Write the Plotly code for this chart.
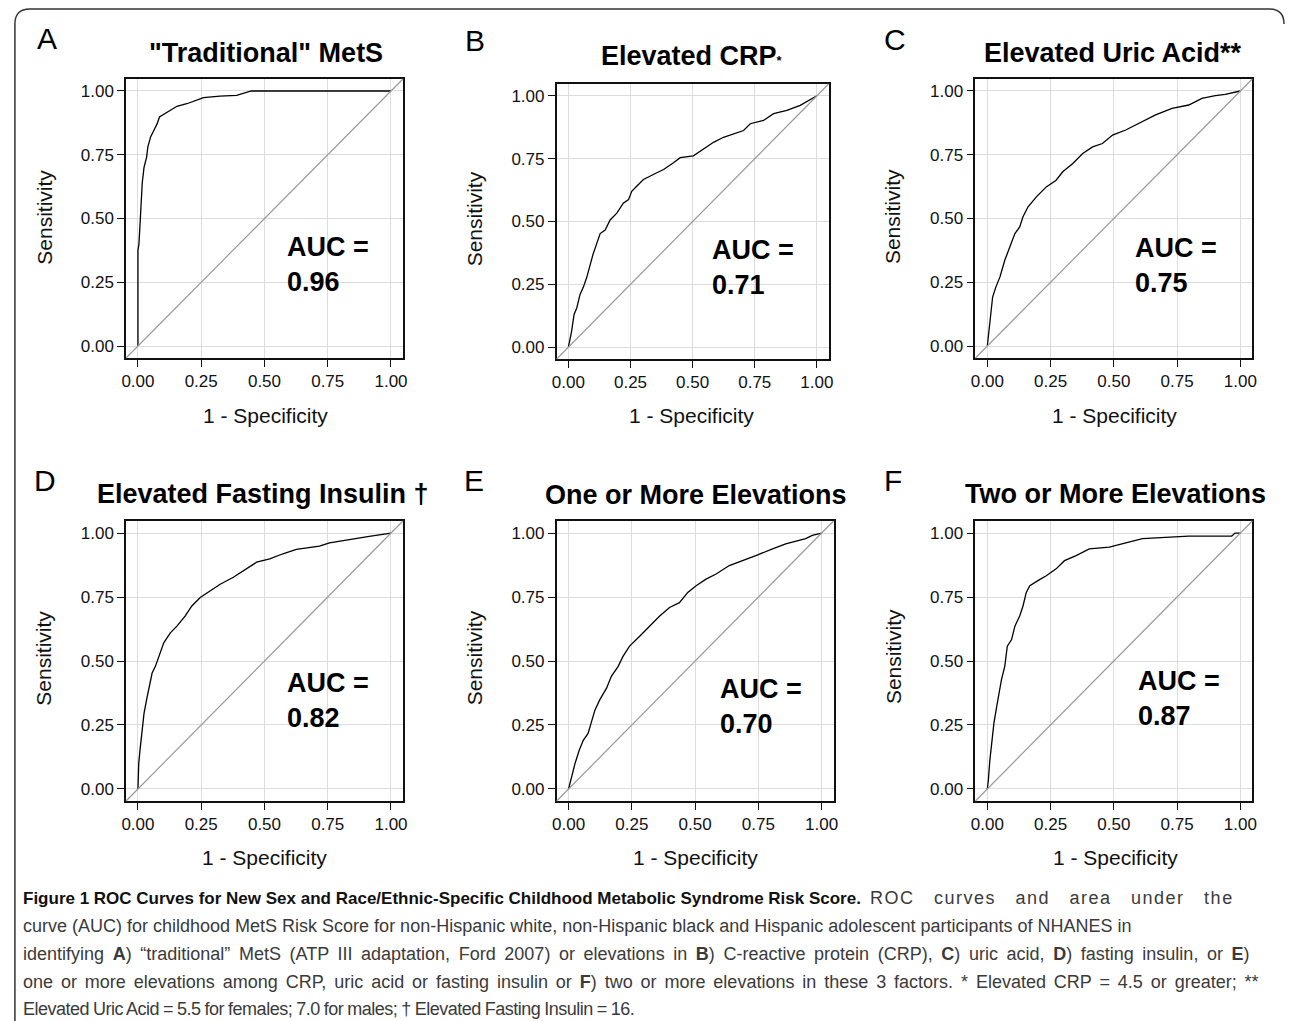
import plotly.graph_objects as go

W, H = 1290, 1021

# ---------------- data ----------------
tick_vals = [0, 0.25, 0.5, 0.75, 1.0]
tick_text = ["0.00", "0.25", "0.50", "0.75", "1.00"]

letters = ["A", "B", "C", "D", "E", "F"]
titles = ['"Traditional" MetS',
          "Elevated CRP<span style='font-size:13px'>*</span>",
          "Elevated Uric Acid**",
          "Elevated Fasting Insulin \u2020",
          "One or More Elevations",
          "Two or More Elevations"]
auc_values = ["0.96", "0.71", "0.75", "0.82", "0.70", "0.87"]

A_fpr = [0, 0.0, 0.004, 0.008, 0.013, 0.017, 0.024, 0.034, 0.039, 0.05, 0.063, 0.076, 0.085,
         0.102, 0.128, 0.154, 0.193, 0.233, 0.259, 0.324, 0.39, 0.448, 1.0]
A_tpr = [0, 0.375, 0.40, 0.49, 0.56, 0.64, 0.70, 0.74, 0.78, 0.82, 0.846, 0.872, 0.898,
         0.908, 0.924, 0.94, 0.95, 0.963, 0.974, 0.98, 0.983, 1.0, 1.0]

B_fpr = [0, 0.013, 0.023, 0.034, 0.047, 0.06, 0.074, 0.087, 0.1, 0.114, 0.128, 0.148, 0.168,
         0.195, 0.221, 0.242, 0.255, 0.275, 0.302, 0.342, 0.383, 0.423, 0.45, 0.503, 0.544,
         0.584, 0.624, 0.678, 0.705, 0.732, 0.785, 0.826, 0.879, 0.933, 0.973, 1.0]
B_tpr = [0, 0.063, 0.13, 0.157, 0.21, 0.238, 0.278, 0.33, 0.372, 0.412, 0.452, 0.466, 0.506,
         0.533, 0.573, 0.587, 0.62, 0.64, 0.667, 0.687, 0.707, 0.734, 0.754, 0.761, 0.788,
         0.815, 0.835, 0.855, 0.862, 0.889, 0.902, 0.929, 0.942, 0.962, 0.983, 1.0]

C_fpr = [0, 0.007, 0.014, 0.021, 0.034, 0.05, 0.069, 0.089, 0.109, 0.128, 0.141, 0.161, 0.194,
         0.233, 0.272, 0.298, 0.338, 0.377, 0.416, 0.455, 0.495, 0.547, 0.613, 0.665, 0.73,
         0.796, 0.848, 0.901, 0.94, 1.0]
C_tpr = [0, 0.062, 0.127, 0.192, 0.232, 0.271, 0.336, 0.389, 0.441, 0.467, 0.507, 0.546, 0.585,
         0.624, 0.65, 0.683, 0.716, 0.755, 0.781, 0.794, 0.827, 0.847, 0.88, 0.906, 0.932,
         0.945, 0.971, 0.982, 0.987, 1.0]

D_fpr = [0, 0.003, 0.008, 0.016, 0.024, 0.034, 0.046, 0.056, 0.069, 0.082, 0.102, 0.128, 0.154,
         0.187, 0.213, 0.246, 0.285, 0.325, 0.377, 0.429, 0.469, 0.521, 0.573, 0.626, 0.717,
         0.757, 0.848, 0.914, 1.0]
D_tpr = [0, 0.098, 0.151, 0.23, 0.295, 0.348, 0.4, 0.453, 0.479, 0.518, 0.571, 0.61, 0.636,
         0.676, 0.715, 0.748, 0.774, 0.8, 0.827, 0.86, 0.886, 0.899, 0.919, 0.936, 0.949,
         0.962, 0.978, 0.987, 1.0]

E_fpr = [0, 0.012, 0.025, 0.042, 0.058, 0.077, 0.091, 0.104, 0.123, 0.15, 0.169, 0.196, 0.215,
         0.241, 0.281, 0.32, 0.36, 0.399, 0.438, 0.471, 0.504, 0.543, 0.583, 0.635, 0.688,
         0.74, 0.806, 0.858, 0.937, 0.963, 1.0]
E_tpr = [0, 0.046, 0.098, 0.151, 0.19, 0.217, 0.269, 0.308, 0.348, 0.394, 0.44, 0.479, 0.518,
         0.558, 0.597, 0.636, 0.676, 0.709, 0.728, 0.768, 0.794, 0.82, 0.84, 0.873, 0.892,
         0.912, 0.938, 0.958, 0.978, 0.991, 1.0]

F_fpr = [0, 0.004, 0.01, 0.017, 0.026, 0.037, 0.047, 0.056, 0.069, 0.079, 0.096, 0.109, 0.128,
         0.141, 0.154, 0.168, 0.2, 0.233, 0.272, 0.305, 0.351, 0.403, 0.482, 0.534, 0.613,
         0.796, 0.966, 0.979, 1.0]
F_tpr = [0, 0.033, 0.112, 0.177, 0.256, 0.322, 0.387, 0.427, 0.479, 0.558, 0.584, 0.636, 0.676,
         0.715, 0.768, 0.794, 0.814, 0.833, 0.86, 0.892, 0.912, 0.938, 0.945, 0.958, 0.978,
         0.988, 0.988, 1.0, 1.0]

fpr_list = [A_fpr, B_fpr, C_fpr, D_fpr, E_fpr, F_fpr]
tpr_list = [A_tpr, B_tpr, C_tpr, D_tpr, E_tpr, F_tpr]

caption_title = "Figure 1 ROC Curves for New Sex and Race/Ethnic-Specific Childhood Metabolic Syndrome Risk Score."
caption_lines = [
    "ROC curves and area under the",
    "curve (AUC) for childhood MetS Risk Score for non-Hispanic white, non-Hispanic black and Hispanic "
    "adolescent participants of NHANES in",
    "identifying <b>A</b>) \u201ctraditional\u201d MetS (ATP III adaptation, Ford 2007) or elevations in "
    "<b>B</b>) C-reactive protein (CRP), <b>C</b>) uric acid, <b>D</b>) fasting insulin, or <b>E</b>)",
    "one or more elevations among CRP, uric acid or fasting insulin or <b>F</b>) two or more elevations in "
    "these 3 factors. * Elevated CRP = 4.5 or greater; **",
    "Elevated Uric Acid = 5.5 for females; 7.0 for males; \u2020 Elevated Fasting Insulin = 16.",
]

# ---------------- layout geometry (pixels) ----------------
boxes = [(122, 401, 79, 358), (556, 830, 84, 359), (978, 1257, 79, 358),
         (122, 401, 521, 801), (556, 835, 521, 801), (978, 1257, 521, 801)]
title_pos = [(263, 53), (692, 56), (1117, 53), (260, 494), (696, 495), (1119, 494)]
letter_pos = [(42, 39), (474, 41), (897, 40), (40, 480), (473, 480), (895, 480)]
ylab_pos = [(40, 217), (473, 219), (895, 217), (38, 658), (473, 658), (895, 657)]
xlab_pos = [(263, 415), (692, 415), (1118, 415), (262, 857), (696, 857), (1119, 857)]
auc_pos = [(0.583, 0.321), (0.568, 0.318), (0.577, 0.316), (0.58, 0.347), (0.589, 0.321), (0.586, 0.354)]
caption_y = [898, 926, 954, 982, 1009]
caption_x = [870, 16, 16, 16, 16]
caption_wordspacing = [13, 0, 3.6, 2.9, -0.5]
caption_letterspacing = [1.5, 0, 0, 0, -0.5]

FONT = "Liberation Sans, Arial, Helvetica, sans-serif"
rng = [-0.047, 1.047]


def px(x):
    return x / W


def py(y):
    return 1 - y / H


fig = go.Figure()
annotations = []
shapes = []

for i in range(6):
    n = "" if i == 0 else str(i + 1)
    xa, ya = "x" + n, "y" + n
    x0, x1, y0, y1 = boxes[i]
    fig.add_trace(go.Scatter(x=fpr_list[i], y=tpr_list[i], mode="lines",
                             line=dict(color="#000000", width=1.3),
                             xaxis=xa, yaxis=ya, showlegend=False, hoverinfo="skip"))
    axis_common = dict(range=rng, tickvals=tick_vals, ticktext=tick_text,
                       showgrid=True, gridcolor="#dcdcdc", gridwidth=1, zeroline=False,
                       showline=True, linecolor="#111111", linewidth=1.6, mirror=True,
                       ticks="outside", ticklen=7, tickwidth=1.3, tickcolor="#111111",
                       tickfont=dict(family=FONT, size=17, color="#111111"), fixedrange=True)
    fig.update_layout(**{
        "xaxis" + n: dict(domain=[px(x0), px(x1)], anchor=ya, **axis_common),
        "yaxis" + n: dict(domain=[py(y1), py(y0)], anchor=xa, **axis_common),
    })
    # diagonal reference line across the full plot box
    shapes.append(dict(type="line", xref=xa + " domain", yref=ya + " domain",
                       x0=0, y0=0, x1=1, y1=1, line=dict(color="#9a9a9a", width=1.2), layer="above"))
    tx, ty = title_pos[i]
    annotations.append(dict(xref="paper", yref="paper", x=px(tx), y=py(ty), text="<b>" + titles[i] + "</b>",
                            showarrow=False, xanchor="center", yanchor="middle",
                            font=dict(family=FONT, size=27, color="#000000")))
    lx, ly = letter_pos[i]
    annotations.append(dict(xref="paper", yref="paper", x=px(lx), y=py(ly), text=letters[i],
                            showarrow=False, xanchor="center", yanchor="middle",
                            font=dict(family=FONT, size=30, color="#000000")))
    sx, sy = ylab_pos[i]
    annotations.append(dict(xref="paper", yref="paper", x=px(sx), y=py(sy), text="Sensitivity",
                            textangle=-90, showarrow=False, xanchor="center", yanchor="middle",
                            font=dict(family=FONT, size=21, color="#111111")))
    qx, qy = xlab_pos[i]
    annotations.append(dict(xref="paper", yref="paper", x=px(qx), y=py(qy), text="1 - Specificity",
                            showarrow=False, xanchor="center", yanchor="middle",
                            font=dict(family=FONT, size=21, color="#111111")))
    ax_, ay_ = auc_pos[i]
    annotations.append(dict(xref=xa, yref=ya, x=ax_, y=ay_, text="<b>AUC =<br>" + auc_values[i] + "</b>",
                            showarrow=False, xanchor="left", yanchor="middle", align="left",
                            font=dict(family=FONT, size=27, color="#000000")))

# caption
annotations.append(dict(xref="paper", yref="paper", x=px(16), y=py(caption_y[0]),
                        text="<b>" + caption_title + "</b>", showarrow=False,
                        xanchor="left", yanchor="middle",
                        font=dict(family=FONT, size=17, color="#111111")))
for txt, cx, cy, ws, ls in zip(caption_lines, caption_x, caption_y, caption_wordspacing, caption_letterspacing):
    annotations.append(dict(xref="paper", yref="paper", x=px(cx), y=py(cy),
                            text="<span style='word-spacing:{}px;letter-spacing:{}px'>{}</span>".format(ws, ls, txt),
                            showarrow=False, xanchor="left", yanchor="middle",
                            font=dict(family=FONT, size=18, color="#3a3a3a")))

# rounded outer frame (left, top and top-right corner)
path = "M {:.5f},{:.5f} L {:.5f},{:.5f} Q {:.5f},{:.5f} {:.5f},{:.5f} L {:.5f},{:.5f} Q {:.5f},{:.5f} {:.5f},{:.5f}".format(
    px(10), py(1021), px(10), py(24), px(10), py(9), px(25), py(9),
    px(1274), py(9), px(1289), py(9), px(1289), py(24))
shapes.append(dict(type="path", xref="paper", yref="paper", path=path,
                   line=dict(color="#333333", width=1.5)))

fig.update_layout(width=W, height=H, margin=dict(l=0, r=0, t=0, b=0),
                  paper_bgcolor="#ffffff", plot_bgcolor="#ffffff",
                  annotations=annotations, shapes=shapes, showlegend=False,
                  font=dict(family=FONT))

fig.write_html("out.html", config={"displayModeBar": False},
               post_script="document.body.style.margin='0';document.body.style.overflow='hidden';")
